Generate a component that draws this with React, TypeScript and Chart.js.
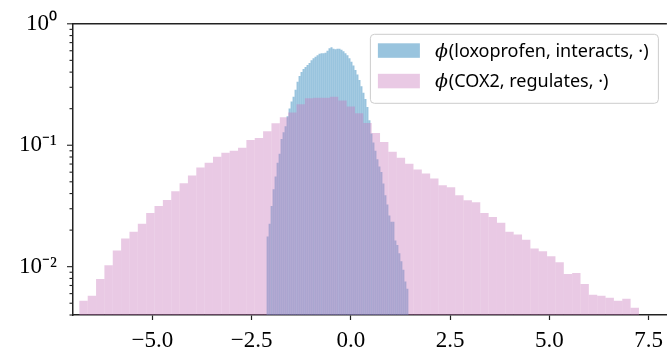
import React, { useEffect, useRef } from 'react';
import { Chart, registerables } from 'chart.js';

Chart.register(...registerables);

// ---- data ----
const seriesLabels = ['ϕ(loxoprofen, interacts, ·)', 'ϕ(COX2, regulates, ·)'];

// blue histogram (loxoprofen, interacts): bin edges start + width
const blueBinStart = -2.123;
const blueBinWidth = 0.0503;
const blueValues = [
  0.01768, 0.02254, 0.03156, 0.04337, 0.05529, 0.07184, 0.085, 0.1125, 0.1282, 0.1434,
  0.1729, 0.2008, 0.2289, 0.2513, 0.2864, 0.3325, 0.372, 0.401, 0.4241, 0.4403,
  0.457, 0.4745, 0.5018, 0.5209, 0.5357, 0.551, 0.5666, 0.5719, 0.5719, 0.5773,
  0.5993, 0.628, 0.6398, 0.6221, 0.6163, 0.6221, 0.6221, 0.6105, 0.5937, 0.5719,
  0.551, 0.5209, 0.488, 0.4527, 0.4163, 0.3826, 0.3452, 0.3057, 0.2708, 0.2399,
  0.2065, 0.1605, 0.1247, 0.1054, 0.0899, 0.0767, 0.0667, 0.0601, 0.0485, 0.0388,
  0.0325, 0.0264, 0.0234, 0.0234, 0.0164, 0.0151, 0.0129, 0.0111, 0.00945, 0.00755,
  0.00657,
];

// pink histogram (COX2, regulates)
const pinkBinStart = -6.84;
const pinkBinWidth = 0.2104;
const pinkValues = [
  0.00525, 0.00577, 0.00793, 0.01028, 0.01361, 0.01703, 0.01941, 0.02254, 0.02768, 0.03155,
  0.03532, 0.04178, 0.04853, 0.05636, 0.06546, 0.07185, 0.08041, 0.08667, 0.08994, 0.09513,
  0.1104, 0.1146, 0.1306, 0.1517, 0.1698, 0.1864, 0.2178, 0.2433, 0.2466, 0.2466,
  0.2512, 0.2333, 0.2085, 0.1832, 0.1526, 0.1259, 0.1064, 0.0883, 0.0789, 0.0705,
  0.0631, 0.0585, 0.0533, 0.0468, 0.0451, 0.0388, 0.0353, 0.034, 0.0277, 0.0257,
  0.023, 0.0194, 0.0184, 0.0167, 0.0141, 0.0134, 0.0122, 0.0109, 0.00869, 0.00885,
  0.00721, 0.00587, 0.00577, 0.00555, 0.00525, 0.00545, 0.0046,
];

const xTicks = [-5, -2.5, 0, 2.5, 5, 7.5];
const xMin = -7.0;
const xMax = 7.96;
const yMin = 0.004;
const yMax = 1;
const yMajorExponents = [-2, -1, 0];

const BLUE = 'rgba(52,138,189,0.5)';
const PINK = 'rgba(200,120,188,0.4)';
const AXIS = '#222222';

function buildYTicks(): number[] {
  const out: number[] = [];
  for (let e = -3; e <= 0; e++) {
    for (let m = 1; m <= 9; m++) {
      const v = m * Math.pow(10, e);
      if (v >= yMin - 1e-12 && v <= yMax + 1e-12) out.push(v);
    }
  }
  return out;
}

const SUP: Record<string, string> = { '0': '⁰', '1': '¹', '2': '²', '3': '³', '-': '⁻' };
function majorExp(v: number): number | null {
  const l = Math.log10(v);
  const r = Math.round(l);
  return Math.abs(l - r) < 1e-9 ? r : null;
}

const framePlugin = {
  id: 'framePlugin',
  afterDraw(chart: any) {
    const { ctx, chartArea } = chart;
    const yScale = chart.scales.y;
    ctx.save();
    // top spine
    ctx.strokeStyle = AXIS;
    ctx.lineWidth = 1.5;
    ctx.beginPath();
    ctx.moveTo(chartArea.left - 0.75, chartArea.top);
    ctx.lineTo(chartArea.right, chartArea.top);
    ctx.stroke();
    // y tick marks (major + minor)
    ctx.lineWidth = 1.1;
    for (const t of yScale.ticks) {
      const py = yScale.getPixelForValue(t.value);
      const isMajor = majorExp(t.value) !== null;
      const len = isMajor ? 6 : 3.5;
      ctx.beginPath();
      ctx.moveTo(chartArea.left - len, py);
      ctx.lineTo(chartArea.left, py);
      ctx.stroke();
    }
    // legend
    const w = 288;
    const h = 69;
    const right = chartArea.right - 9;
    const top = chartArea.top + 10;
    const left = right - w;
    ctx.beginPath();
    (ctx as any).roundRect(left + 0.5, top + 0.5, w, h, 4);
    ctx.fillStyle = 'rgba(255,255,255,0.8)';
    ctx.fill();
    ctx.strokeStyle = '#cccccc';
    ctx.lineWidth = 1;
    ctx.stroke();
    const dsList = chart.data.datasets;
    dsList.forEach((ds: any, i: number) => {
      const rowTop = top + 9.5 + i * 30.5;
      ctx.fillStyle = ds.backgroundColor;
      ctx.fillRect(left + 8, rowTop, 42, 14.5);
      const cy = rowTop + 8.5;
      ctx.fillStyle = '#000';
      ctx.textBaseline = 'middle';
      ctx.textAlign = 'left';
      const label: string = ds.label;
      const phi = label.slice(0, 1);
      const rest = label.slice(1);
      ctx.font = 'italic 19px "DejaVu Serif"';
      ctx.fillText(phi, left + 65, cy);
      const pw = ctx.measureText(phi).width;
      ctx.font = '18px "Noto Sans"';
      ctx.fillText(rest, left + 65 + pw + 1, cy);
    });
    ctx.restore();
  },
};

export default function App() {
  const canvasRef = useRef<HTMLCanvasElement | null>(null);

  useEffect(() => {
    const canvas = canvasRef.current;
    if (!canvas) return;
    const blueData = blueValues.map((v, i) => ({ x: blueBinStart + blueBinWidth * (i + 0.5), y: v }));
    const pinkData = pinkValues.map((v, i) => ({ x: pinkBinStart + pinkBinWidth * (i + 0.5), y: v }));
    const yTicks = buildYTicks();

    const chart = new Chart(canvas, {
      type: 'bar',
      data: {
        datasets: [
          {
            label: seriesLabels[0],
            data: blueData as any,
            xAxisID: 'xb',
            backgroundColor: BLUE,
            borderWidth: 0,
            barPercentage: 1,
            categoryPercentage: 1,
            grouped: false,
            inflateAmount: 0,
            order: 2,
          } as any,
          {
            label: seriesLabels[1],
            data: pinkData as any,
            xAxisID: 'x',
            backgroundColor: PINK,
            borderWidth: 0,
            barPercentage: 1,
            categoryPercentage: 1,
            grouped: false,
            inflateAmount: 0,
            order: 1,
          } as any,
        ],
      },
      options: {
        animation: false,
        responsive: true,
        maintainAspectRatio: false,
        devicePixelRatio: 1,
        layout: { padding: { top: 20, right: 0, left: 0, bottom: 0 } },
        plugins: {
          legend: { display: false },
          tooltip: { enabled: false },
        },
        scales: {
          x: {
            type: 'linear',
            position: 'bottom',
            min: xMin,
            max: xMax,
            offset: false,
            afterBuildTicks: (scale: any) => {
              scale.ticks = xTicks.map((v) => ({ value: v }));
            },
            afterFit: (scale: any) => {
              scale.height = 36;
            },
            ticks: {
              autoSkip: false,
              maxRotation: 0,
              padding: 7,
              color: '#000',
              font: { family: '"Liberation Serif", serif', size: 23 },
              callback: (v: any) => {
                const n = Number(v);
                return (n < 0 ? '−' : '') + Math.abs(n).toFixed(1);
              },
            },
            grid: {
              display: true,
              offset: false,
              drawOnChartArea: false,
              drawTicks: true,
              tickLength: 5,
              tickColor: AXIS,
              tickWidth: 1.2,
            },
            border: { display: true, color: AXIS, width: 1.5 },
          },
          xb: {
            type: 'linear',
            display: false,
            offset: false,
            grid: { offset: false },
            min: xMin,
            max: xMax,
          },
          y: {
            type: 'logarithmic',
            position: 'left',
            min: yMin,
            max: yMax,
            afterBuildTicks: (scale: any) => {
              scale.ticks = yTicks.map((v) => ({ value: v, major: majorExp(v) !== null }));
            },
            afterFit: (scale: any) => {
              scale.width = 73;
            },
            ticks: {
              autoSkip: false,
              padding: 10,
              color: '#000',
              font: { family: '"Liberation Serif", serif', size: 23 },
              callback: (v: any) => {
                const e = majorExp(Number(v));
                if (e === null || !yMajorExponents.includes(e)) return '';
                return '10' + String(e).split('').map((c) => SUP[c] || c).join('');
              },
            },
            grid: {
              display: true,
              drawOnChartArea: false,
              drawTicks: true,
              tickLength: 6,
              tickColor: 'rgba(0,0,0,0)',
            },
            border: { display: true, color: AXIS, width: 1.5 },
          },
        },
      },
      plugins: [framePlugin],
    });
    return () => chart.destroy();
  }, []);

  return (
    <div style={{ position: 'absolute', left: 0, top: 0, width: 670, height: 351 }}>
      <canvas ref={canvasRef} />
    </div>
  );
}
